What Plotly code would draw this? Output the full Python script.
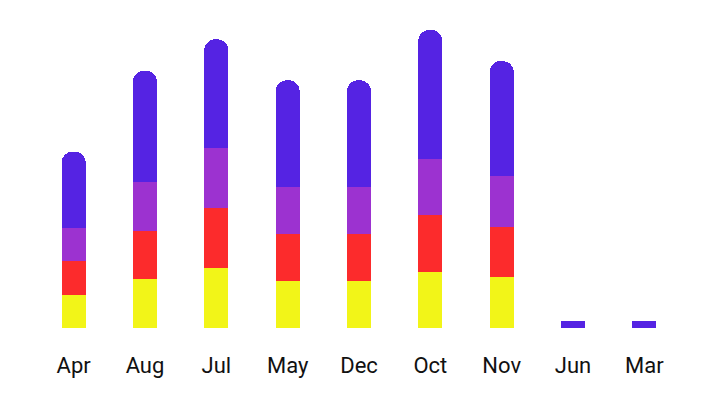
import plotly.graph_objects as go

months = ["Apr", "Aug", "Jul", "May", "Dec", "Oct", "Nov", "Jun", "Mar"]
yellow_vals = [10.0, 14.6, 17.9, 14.0, 14.0, 16.9, 15.2, 0, 0]
red_vals = [10.1, 14.6, 18.1, 14.2, 14.2, 17.0, 15.1, 0, 0]
purple_vals = [10.0, 14.6, 18.1, 14.1, 14.1, 16.8, 15.2, 0, 0]
blue_vals = [22.8, 33.4, 32.5, 32.0, 32.0, 38.7, 34.6, 2.1, 2.1]

colors = {"yellow": "#f2f518", "red": "#fc2b2c", "purple": "#9c32d0", "blue": "#5523e3"}

# categories with only a small stub (no lower segments) are drawn square
lower_tot = [a + b + c for a, b, c in zip(yellow_vals, red_vals, purple_vals)]
blue_main = [v if t > 0 else 0 for v, t in zip(blue_vals, lower_tot)]
blue_stub = [v if t == 0 else 0 for v, t in zip(blue_vals, lower_tot)]

fig = go.Figure()
for name, vals in [("yellow", yellow_vals), ("red", red_vals),
                   ("purple", purple_vals), ("blue", blue_main)]:
    fig.add_trace(go.Bar(x=months, y=vals, name=name,
                         marker=dict(color=colors[name], line=dict(width=0),
                                     cornerradius=12),
                         hoverinfo="skip"))
fig.add_trace(go.Bar(x=months, y=blue_stub, name="blue stub",
                     xaxis="x2", yaxis="y2",
                     marker=dict(color=colors["blue"], line=dict(width=0),
                                 cornerradius=0),
                     hoverinfo="skip"))

fig.update_layout(
    width=716, height=395,
    barmode="stack",
    bargap=0.664,
    showlegend=False,
    paper_bgcolor="white",
    plot_bgcolor="white",
    margin=dict(l=30, r=44, t=12, b=75),
    font=dict(family="Roboto", size=22, color="#111111"),
    xaxis=dict(showgrid=False, zeroline=False, showline=False,
               categoryorder="array", categoryarray=months,
               ticks="outside", ticklen=18, tickcolor="rgba(0,0,0,0)",
               tickfont=dict(size=22)),
    yaxis=dict(range=[0, 92.4], visible=False, showgrid=False, zeroline=False),
    xaxis2=dict(overlaying="x", matches="x", visible=False,
                categoryorder="array", categoryarray=months),
    yaxis2=dict(overlaying="y", range=[0, 92.4], visible=False),
)

fig.write_html("out.html")
